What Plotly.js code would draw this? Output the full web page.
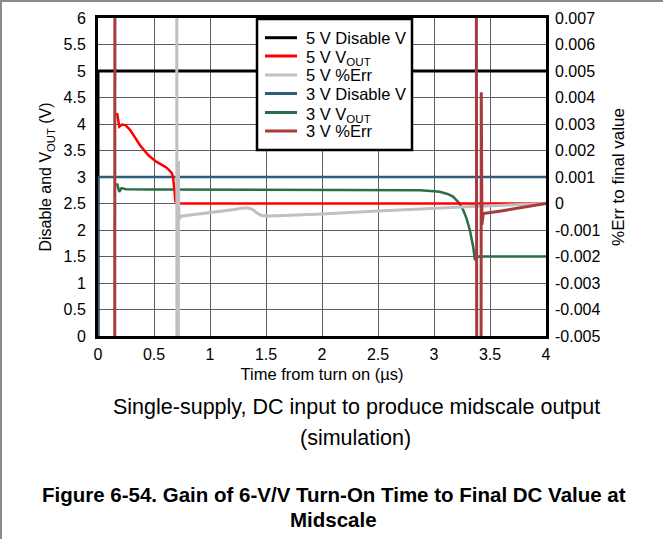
<!DOCTYPE html>
<html>
<head>
<meta charset="utf-8">
<script src="https://cdn.plot.ly/plotly-3.0.1.min.js"></script>
<style>
  html, body { margin: 0; padding: 0; background: #fff; }
  #wrap { position: relative; width: 663px; height: 539px; }
  #chart { position: absolute; left: 0; top: 0; width: 663px; height: 539px; }
  #frame { position: absolute; left: 0; top: 0; width: 661px; height: 537px;
           border-left: 2px solid #8a8a8a; border-top: 2px solid #8a8a8a; pointer-events: none; }
</style>
</head>
<body>
<div id="wrap"><div id="chart"></div><div id="frame"></div></div>
<script>
// ---- data ----
const seriesNames = ['5 V Disable V', '5 V V<sub>OUT</sub>', '5 V %Err',
                     '3 V Disable V', '3 V V<sub>OUT</sub>', '3 V %Err'];

const dis5T = [0, 0, 4];
const dis5V = [0, 5, 5];

const vout5T = [0.17, 0.18, 0.19, 0.215, 0.245, 0.286, 0.315, 0.375, 0.45, 0.52, 0.57, 0.61, 0.64, 0.66, 0.67, 0.68, 0.685, 0.69, 0.70, 4.0];
const vout5V = [4.21, 4.05, 3.95, 3.99, 3.98, 3.89, 3.79, 3.60, 3.41, 3.29, 3.23, 3.18, 3.12, 3.07, 3.0, 2.85, 2.7, 2.55, 2.5, 2.5];

const err5T = [0.702, 0.706, 0.716, 0.718, 0.722, 0.74, 0.8, 0.9, 1.0, 1.1, 1.2, 1.28, 1.33, 1.38, 1.42, 1.46, 1.52, 1.6, 2.0, 2.5, 3.0, 3.4, 4.0];
const err5V = [0.02, -0.02, -0.02, 0.0016, -0.0006, -0.00048, -0.00045, -0.0004, -0.00036, -0.0003, -0.00024, -0.00018, -0.00016, -0.00022, -0.00036, -0.00045, -0.00047, -0.00046, -0.0004, -0.00028, -0.00017, -0.0001, 0.0];

const dis3T = [0, 0, 4];
const dis3V = [0, 3, 3];

const vout3T = [0.17, 0.19, 0.21, 0.25, 0.5, 1.0, 2.0, 2.6, 2.875, 3.0, 3.05, 3.12, 3.17, 3.22, 3.26, 3.29, 3.32, 3.35, 3.366, 3.38, 3.40, 4.0];
const vout3V = [2.88, 2.72, 2.79, 2.77, 2.765, 2.76, 2.755, 2.755, 2.75, 2.73, 2.72, 2.68, 2.63, 2.52, 2.38, 2.22, 2.0, 1.68, 1.43, 1.48, 1.5, 1.5];

const err3T = [0.148, 0.152, null, 3.375, 3.385, 3.418, 3.422, 3.428, 3.44, 3.6, 3.8, 4.0];
const err3V = [-0.02, 0.02, null, 0.02, -0.02, -0.02, 0.0042, -0.0008, -0.00038, -0.00028, -0.00015, 0.0];

const xTicks = [0, 0.5, 1, 1.5, 2, 2.5, 3, 3.5, 4];
const yTicks = [0, 0.5, 1, 1.5, 2, 2.5, 3, 3.5, 4, 4.5, 5, 5.5, 6];
const y2Ticks = [-0.005, -0.004, -0.003, -0.002, -0.001, 0, 0.001, 0.002, 0.003, 0.004, 0.005, 0.006, 0.007];
const y2Labels = ['-0.005', '-0.004', '-0.003', '-0.002', '-0.001', '0', '0.001', '0.002', '0.003', '0.004', '0.005', '0.006', '0.007'];

const colors = ['#000000', '#ff0000', '#c0c0c0', '#2e5e7c', '#2b6d47', '#a63a3c'];
const widths = [3, 2.5, 3, 2.5, 2.5, 3];

// draw order: black, blue, green, red, gray, brown
const traces = [
  {x: dis5T, y: dis5V, line: {color: colors[0], width: widths[0]}},
  {x: dis3T, y: dis3V, line: {color: colors[3], width: widths[3]}},
  {x: vout3T, y: vout3V, line: {color: colors[4], width: widths[4]}},
  {x: vout5T, y: vout5V, line: {color: colors[1], width: widths[1]}},
  {x: err5T, y: err5V, yaxis: 'y2', line: {color: colors[2], width: widths[2]}},
  {x: err3T, y: err3V, yaxis: 'y2', line: {color: colors[5], width: widths[5]}, connectgaps: false}
].map(t => Object.assign({type: 'scatter', mode: 'lines', hoverinfo: 'skip', showlegend: false}, t));

const font = {family: 'Liberation Sans, Arial, sans-serif', color: '#000'};

// pixel -> paper helpers (plot area 98..546 x 18..336)
const PX = p => (p - 98) / 448;
const PY = p => (336 - p) / 318;

// custom legend (box, line samples, labels)
const legRows = [37.7, 56, 75, 93.5, 112.5, 131];
const legSub = [false, true, false, false, true, false];
const shapes = [
  {type: 'rect', xref: 'paper', yref: 'paper', x0: PX(257), x1: PX(412), y0: PY(150), y1: PY(19),
   fillcolor: '#fff', line: {color: '#000', width: 2.5}, layer: 'above'}
];
const annotations = [];
seriesNames.forEach((name, i) => {
  shapes.push({type: 'line', xref: 'paper', yref: 'paper', x0: PX(265), x1: PX(297),
               y0: PY(legRows[i]), y1: PY(legRows[i]), line: {color: colors[i], width: 3}, layer: 'above'});
  annotations.push({text: name, xref: 'paper', yref: 'paper', x: PX(304), y: PY(legRows[i]),
                    xanchor: 'left', yanchor: 'middle', showarrow: false, yshift: legSub[i] ? -2 : 0,
                    font: Object.assign({size: 16.5}, font)});
});

annotations.push(
  {text: 'Single-supply, DC input to produce midscale output', xref: 'paper', yref: 'paper',
   x: PX(356), y: PY(407), xanchor: 'center', yanchor: 'middle', showarrow: false,
   font: Object.assign({size: 21.5}, font)},
  {text: '(simulation)', xref: 'paper', yref: 'paper',
   x: PX(355), y: PY(438), xanchor: 'center', yanchor: 'middle', showarrow: false,
   font: Object.assign({size: 21.5}, font)},
  {text: '<b>Figure 6-54. Gain of 6-V/V Turn-On Time to Final DC Value at</b>', xref: 'paper', yref: 'paper',
   x: PX(334), y: PY(494), xanchor: 'center', yanchor: 'middle', showarrow: false,
   font: Object.assign({size: 20.5}, font)},
  {text: '<b>Midscale</b>', xref: 'paper', yref: 'paper',
   x: PX(333), y: PY(519), xanchor: 'center', yanchor: 'middle', showarrow: false,
   font: Object.assign({size: 20.5}, font)}
);

const layout = {
  width: 663, height: 539,
  margin: {l: 98, r: 117, t: 18, b: 203, pad: 0},
  paper_bgcolor: '#fff', plot_bgcolor: '#fff',
  font: Object.assign({size: 16}, font),
  showlegend: false,
  xaxis: {
    range: [0, 4], tickvals: xTicks, showgrid: true, gridcolor: '#5e5e5e', gridwidth: 1,
    zeroline: false, showline: true, linecolor: '#000', linewidth: 3, mirror: true,
    ticks: '', ticklabelstandoff: 2, tickfont: Object.assign({size: 16}, font),
    title: {text: 'Time from turn on (µs)', font: Object.assign({size: 16.5}, font), standoff: 7}
  },
  yaxis: {
    range: [0, 6], tickvals: yTicks, showgrid: true, gridcolor: '#5e5e5e', gridwidth: 1,
    zeroline: false, showline: true, linecolor: '#000', linewidth: 3, mirror: true,
    ticks: '', ticklabelstandoff: 6, tickfont: Object.assign({size: 16}, font),
    title: {text: 'Disable and V<sub>OUT</sub> (V)', font: Object.assign({size: 16}, font), standoff: 8}
  },
  yaxis2: {
    overlaying: 'y', side: 'right', range: [-0.005, 0.007],
    tickvals: y2Ticks, ticktext: y2Labels, showgrid: false, zeroline: false, showline: false,
    ticks: '', ticklabelstandoff: 8, tickfont: Object.assign({size: 16}, font),
    title: {text: '%Err to final value', font: Object.assign({size: 17}, font), standoff: 12}
  },
  shapes: shapes,
  annotations: annotations
};

Plotly.newPlot('chart', traces, layout, {staticPlot: true, displayModeBar: false});
</script>
</body>
</html>
